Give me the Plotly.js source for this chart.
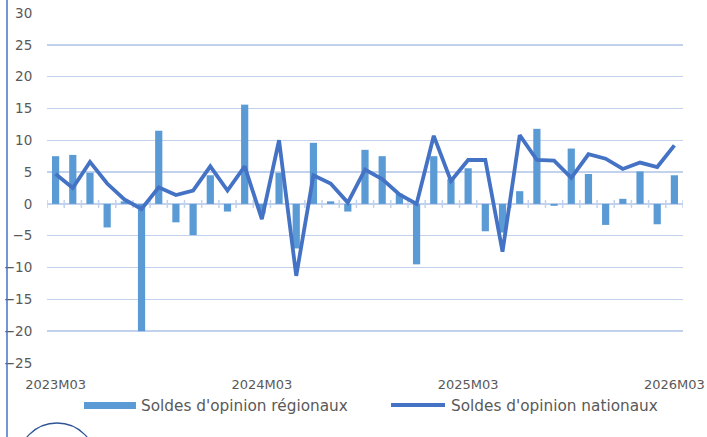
<!DOCTYPE html>
<html>
<head>
<meta charset="utf-8">
<script src="https://cdn.plot.ly/plotly-3.0.1.min.js"></script>
<style>html,body{margin:0;padding:0;background:#fff;}#chart{width:707px;height:437px;}</style>
</head>
<body>
<div id="chart"></div>
<script>
const months = ['2023M03','2023M04','2023M05','2023M06','2023M07','2023M08','2023M09','2023M10','2023M11','2023M12',
  '2024M01','2024M02','2024M03','2024M04','2024M05','2024M06','2024M07','2024M08','2024M09','2024M10','2024M11','2024M12',
  '2025M01','2025M02','2025M03','2025M04','2025M05','2025M06','2025M07','2025M08','2025M09','2025M10','2025M11','2025M12',
  '2026M01','2026M02','2026M03'];
const regional = [7.5, 7.7, 4.9, -3.7, 0.4, -20.0, 11.5, -2.9, -4.9, 4.5,
  -1.2, 15.6, -1.5, 4.9, -7.0, 9.6, 0.4, -1.2, 8.5, 7.5, 1.6, -9.5,
  7.5, 3.9, 5.6, -4.3, -4.5, 2.0, 11.8, -0.3, 8.7, 4.7, -3.3, 0.8,
  5.1, -3.2, 4.5];
const national = [4.7, 2.5, 6.6, 3.2, 0.7, -0.8, 2.6, 1.4, 2.1, 5.9,
  2.1, 5.9, -2.4, 10.0, -11.3, 4.5, 3.2, 0.2, 5.4, 3.9, 1.5, 0.0,
  10.7, 3.6, 6.9, 6.9, -7.5, 10.8, 6.9, 6.8, 4.1, 7.8, 7.1, 5.5,
  6.5, 5.8, 9.2];
const tickLabels = ['2023M03','2024M03','2025M03','2026M03'];
const seriesNames = ["Soldes d'opinion régionaux", "Soldes d'opinion nationaux"];

const barColor = '#5B9BD5';
const lineColor = '#4472C4';
const gridColor = '#C3D2EC';
const textColor = '#595959';
const fontFam = 'DejaVu Sans, sans-serif';

const traces = [
  {type:'bar', x: months, y: regional, name: seriesNames[0], marker:{color: barColor}, showlegend:false, hoverinfo:'x+y'},
  {type:'scatter', mode:'lines', x: months, y: national, name: seriesNames[1], line:{color: lineColor, width: 3.8}, showlegend:false}
];

const shapes = [];
// small ticks across the zero line at category boundaries
for (let i = 0; i <= months.length; i++) {
  shapes.push({type:'line', xref:'x', yref:'y', x0: i - 0.5, x1: i - 0.5, y0: -0.63, y1: 0.63,
    line:{color: gridColor, width: 1.5}, layer:'below'});
}
// manual legend swatches
shapes.push({type:'rect', xref:'paper', yref:'paper', x0:0.0582, x1:0.1399, y0:-0.1314, y1:-0.1114,
  fillcolor: barColor, line:{width:0}});
shapes.push({type:'line', xref:'paper', yref:'paper', x0:0.5409, x1:0.6258, y0:-0.12, y1:-0.12,
  line:{color: lineColor, width: 4}});
// left frame line
shapes.push({type:'line', xref:'paper', yref:'paper', x0:-0.0629, x1:-0.0629, y0:-0.22, y1:1.04,
  line:{color: '#4472C4', width: 1.5}});
// partial logo circle at bottom left
shapes.push({type:'circle', xref:'paper', yref:'paper', x0:-0.0456, x1:0.077, y0:-0.394, y1:-0.1714,
  line:{color:'#2F5597', width:1.3}});

const annotations = [
  {xref:'paper', yref:'paper', x:0.1446, y:-0.124, xanchor:'left', yanchor:'middle', showarrow:false,
    text: seriesNames[0], font:{family: fontFam, size:15.3, color: textColor}},
  {xref:'paper', yref:'paper', x:0.6320, y:-0.124, xanchor:'left', yanchor:'middle', showarrow:false,
    text: seriesNames[1], font:{family: fontFam, size:15.3, color: textColor}}
];

const layout = {
  width: 707, height: 437,
  margin: {l:47, r:24, t:13, b:74},
  paper_bgcolor:'#ffffff', plot_bgcolor:'#ffffff',
  showlegend: false,
  bargap: 0.58,
  font: {family: fontFam, color: textColor, size: 13},
  xaxis: {type:'category', range:[-0.5, months.length - 0.5], tickmode:'array', tickvals: tickLabels, ticktext: tickLabels,
    showgrid:false, zeroline:false, showline:false, ticks:'outside', ticklen:9, tickcolor:'rgba(0,0,0,0)',
    tickangle:0, tickfont:{family: fontFam, size:13, color: textColor}, fixedrange:true},
  yaxis: {range:[-25, 30], dtick:5, tick0:0, showgrid:true, gridcolor: gridColor, gridwidth:1.5,
    zeroline:true, zerolinecolor: gridColor, zerolinewidth:1.5, showline:false,
    ticks:'outside', ticklen:11, tickcolor:'rgba(0,0,0,0)', tickfont:{family: fontFam, size:13.5, color: textColor}, fixedrange:true},
  shapes: shapes,
  annotations: annotations
};

Plotly.newPlot('chart', traces, layout, {displayModeBar:false, staticPlot:true});
</script>
</body>
</html>
